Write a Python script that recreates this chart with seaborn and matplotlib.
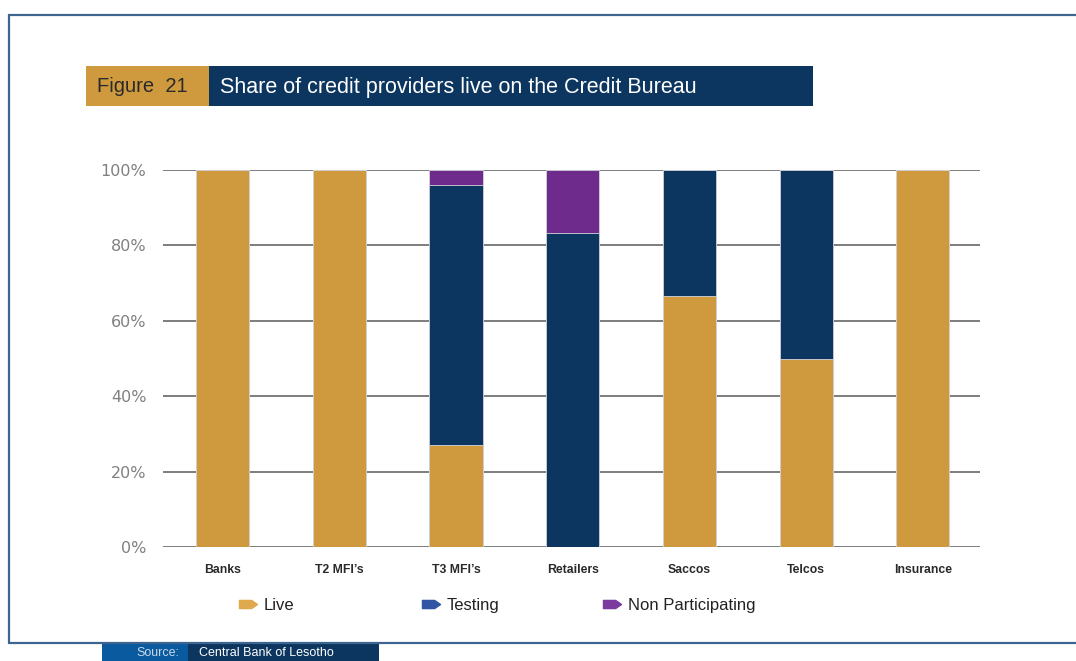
import matplotlib
matplotlib.use("Agg")
import matplotlib.pyplot as plt
import seaborn as sns
import pandas as pd
import numpy as np
from matplotlib.patches import Rectangle
from matplotlib.lines import Line2D
from matplotlib.path import Path

# Data
categories = ["Banks", "T2 MFI\u2019s", "T3 MFI\u2019s", "Retailers", "Saccos", "Telcos", "Insurance"]
live = [1.00, 1.00, 0.27, 0.00, 0.667, 0.50, 1.00]
testing = [0.00, 0.00, 0.69, 0.833, 0.333, 0.50, 0.00]
non_participating = [0.00, 0.00, 0.04, 0.167, 0.00, 0.00, 0.00]
series_names = ["Live", "Testing", "Non Participating"]
y_ticks = [0, 0.2, 0.4, 0.6, 0.8, 1.0]
y_tick_labels = ["0%", "20%", "40%", "60%", "80%", "100%"]

GOLD = "#CF9A3E"
NAVY = "#0C365F"
PURPLE = "#6E2B8C"
FRAME = "#3D6590"

sns.set_theme(style="white")
plt.rcParams["font.family"] = ["DejaVu Sans"]
NARROW = ["Liberation Sans", "DejaVu Sans"]

W, H = 1076, 661
fig = plt.figure(figsize=(W / 100, H / 100), dpi=100)

def fx(px):
    return px / W

def fy(py):
    return 1 - py / H

ax = fig.add_axes([fx(163), fy(547), fx(980) - fx(163), fy(170) - fy(547)])

live_a = np.array(live)
test_a = np.array(testing)
non_a = np.array(non_participating)
df = pd.DataFrame({
    "category": categories,
    "top": live_a + test_a + non_a,
    "mid": live_a + test_a,
    "low": live_a,
})

# gridlines behind bars
for t in y_ticks:
    ax.axhline(t, color="#737373", lw=1.3, zorder=0)

bar_kw = dict(order=categories, width=0.455, edgecolor="#d4d4dc", linewidth=0.6, ax=ax, zorder=2)
sns.barplot(data=df, x="category", y="top", color=PURPLE, saturation=1, **bar_kw)
sns.barplot(data=df, x="category", y="mid", color=NAVY, saturation=1, **bar_kw)
sns.barplot(data=df, x="category", y="low", color=GOLD, saturation=1, **bar_kw)

ax.set_xlim(-0.51, 6.49)
ax.set_ylim(0, 1.0)
ax.set_yticks(y_ticks)
ax.set_yticklabels(y_tick_labels, color="#808080", fontsize=11.5)
ax.tick_params(axis="y", length=0, pad=12)
ax.tick_params(axis="x", length=0, pad=12)
ax.set_xticks(range(len(categories)))
ax.set_xticklabels(categories, fontsize=8.8, fontweight="bold", color="#2a2a2a", family=NARROW)
ax.set_xlabel("")
ax.set_ylabel("")
for s in ax.spines.values():
    s.set_visible(False)
ax.patch.set_alpha(0)

# Legend entries with pencil-shaped markers, aligned on a shared baseline
pencil = Path([(-1.0, -0.45), (0.35, -0.45), (1.0, 0.0), (0.35, 0.45), (-1.0, 0.45), (-1.0, -0.45)],
              [Path.MOVETO, Path.LINETO, Path.LINETO, Path.LINETO, Path.LINETO, Path.CLOSEPOLY])
legend_cols = ["#E0A94E", "#2F55A4", "#7B3A9E"]
legend_x = [248, 431, 612]
for name, col, x0 in zip(series_names, legend_cols, legend_x):
    fig.add_artist(Line2D([fx(x0)], [fy(604)], marker=pencil, color=col, markersize=13,
                          linestyle="none"))
    fig.text(fx(x0 + 16), fy(610), name, family=NARROW, fontsize=12, color="#222222",
             va="baseline", ha="left")

# Frame lines
fig.add_artist(Line2D([fx(9), fx(9)], [fy(15), fy(643)], color=FRAME, lw=1.6))
fig.add_artist(Line2D([fx(9), fx(1076)], [fy(15), fy(15)], color=FRAME, lw=1.6))
fig.add_artist(Line2D([fx(9), fx(1076)], [fy(643), fy(643)], color=FRAME, lw=1.6))

# Title banner
fig.add_artist(Rectangle((fx(86), fy(106)), fx(209) - fx(86), fy(66) - fy(106),
                         transform=fig.transFigure, color=GOLD, lw=0))
fig.add_artist(Rectangle((fx(209), fy(106)), fx(813) - fx(209), fy(66) - fy(106),
                         transform=fig.transFigure, color=NAVY, lw=0))
fig.text(fx(97), fy(87), "Figure  21", family=NARROW, fontsize=14.5, color="#2a2a2a", va="center", ha="left")
fig.text(fx(220), fy(87), "Share of credit providers live on the Credit Bureau", family=NARROW,
         fontsize=15.5, color="white", va="center", ha="left")

# Source strip
fig.add_artist(Rectangle((fx(102), 0), fx(188) - fx(102), fy(642), transform=fig.transFigure,
                         color="#0A5AA0", lw=0))
fig.add_artist(Rectangle((fx(188), 0), fx(379) - fx(188), fy(642), transform=fig.transFigure,
                         color=NAVY, lw=0))
fig.text(fx(136), fy(653), "Source:", family=NARROW, fontsize=9, color="#c8d8ea", va="center", ha="left")
fig.text(fx(199), fy(653), "Central Bank of Lesotho", family=NARROW, fontsize=9, color="white",
         va="center", ha="left")

fig.savefig("out.png", dpi=100)
